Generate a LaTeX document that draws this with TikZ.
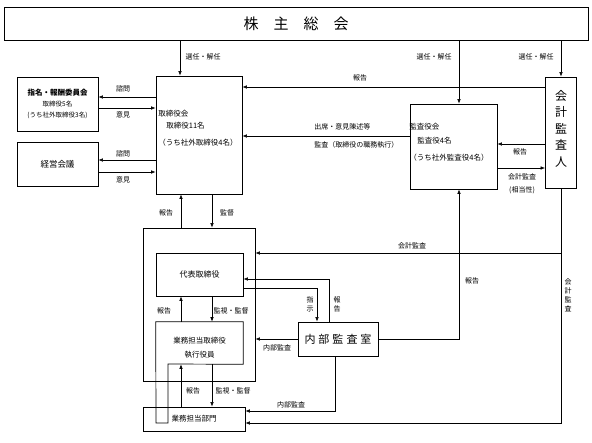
\documentclass[tikz,border=0pt]{standalone}
\usepackage{fontspec}
\setmainfont{Noto Sans CJK JP}
\usetikzlibrary{arrows.meta}

\tikzset{
  box/.style={draw, line width=0.7pt, inner sep=0pt},
  lbl/.style={font=\fontsize{7}{9}\selectfont, inner sep=0pt},
  vlbl/.style={font=\fontsize{7}{9}\selectfont, inner sep=0pt, align=center},
  >={Latex[length=4.5pt,width=3.5pt]},
}

\begin{document}
\begin{tikzpicture}[x=1pt, y=-1pt, line width=0.6pt]
    \useasboundingbox (0,0) rectangle (592,443);

    % boxes
    \node[box, minimum width=584pt, minimum height=33pt, font=\fontsize{15}{15}\selectfont] (kabunushi) at (296,23.5) {株\hspace{15pt}主\hspace{15pt}総\hspace{15pt}会};
    \node[box, minimum width=81pt, minimum height=54pt, align=center] (shimei) at (57.5,104)
        {{\fontsize{7.5}{10}\selectfont\bfseries 指名・報酬委員会}\\[-1pt]{\fontsize{6.5}{9}\selectfont 取締役5名}\\[-1pt]{\fontsize{6.5}{9}\selectfont (うち社外取締役3名)}};
    \node[box, minimum width=81pt, minimum height=44pt, font=\fontsize{8.5}{10}\selectfont] (keiei) at (57.5,164) {経営会議};
    \node[box, minimum width=86pt, minimum height=118pt] (torishimari) at (199,135) {};
    \node[align=left, inner sep=0pt, font=\fontsize{7.5}{12}\selectfont] (torishimaritxt) at (198,128.5)
        {取締役会\\\hspace*{8pt}取締役11名\\[5pt]（うち社外取締役4名）};
    \node[box, minimum width=87pt, minimum height=85pt] (kansayaku) at (453.5,146.5) {};
    \node[align=left, inner sep=0pt, font=\fontsize{7.5}{14}\selectfont] (kansayakutxt) at (449,142.5)
        {監査役会\\\hspace*{8pt}監査役4名\\[3pt]（うち社外監査役4名）};
    \node[box, minimum width=31pt, minimum height=111pt, align=center, font=\fontsize{12}{16.5}\selectfont] (kaikei) at (561,132.5)
        {会\\計\\監\\査\\人\rule[-9pt]{0pt}{9pt}};

    \node[box, minimum width=112pt, minimum height=153pt] (outer) at (199,304.5) {};
    \node[box, minimum width=87pt, minimum height=43pt, font=\fontsize{8}{10}\selectfont] (daihyo) at (199.5,274.5) {代表取締役};
    \node[minimum width=87pt, minimum height=42pt, inner sep=0pt, align=center, font=\fontsize{7.5}{14}\selectfont] (gyomu) at (199.5,343)
        {\rule{0pt}{15pt}業務担当取締役\\執行役員};
    \draw[line width=0.7pt] (gyomu.north west) -- (gyomu.north east) -- (gyomu.south east)
        -- (168,364) -- (168,423) -- (156,423) -- cycle;
    \node[box, minimum width=80pt, minimum height=34pt, font=\fontsize{11}{12}\selectfont] (naibu) at (338,339) {内\hspace{3pt}部\hspace{3pt}監\hspace{3pt}査\hspace{3pt}室};
    \node[box, minimum width=102pt, minimum height=24pt, font=\fontsize{7.5}{10}\selectfont] (bumon) at (194,419) {業務担当部門};

    % 株主総会から
    \draw[->] (kabunushi.south -| 180,0) -- (torishimari.north -| 180,0);
    \node[lbl] at (203,57) {選任・解任};
    \draw[->] (kabunushi.south -| 459,0) -- (kansayaku.north -| 459,0);
    \node[lbl] at (434,57) {選任・解任};
    \draw[->] (kabunushi.south -| 561,0) -- (kaikei.north -| 561,0);
    \node[lbl] at (536,57) {選任・解任};

    % 委員会・会議
    \draw[->] (torishimari.west |- 0,97) -- (shimei.east |- 0,97);
    \node[lbl] at (123,89) {諮問};
    \draw[->] (shimei.east |- 0,108) -- (torishimari.west |- 0,108);
    \node[lbl] at (123,115) {意見};
    \draw[->] (torishimari.west |- 0,160) -- (keiei.east |- 0,160);
    \node[lbl] at (123,154) {諮問};
    \draw[->] (keiei.east |- 0,172) -- (torishimari.west |- 0,172);
    \node[lbl] at (123,180) {意見};

    % 取締役会へ
    \draw[->] (kaikei.west |- 0,87) -- (torishimari.east |- 0,87);
    \node[lbl] at (360,78) {報告};
    \draw[->] (kansayaku.west |- 0,136) -- (torishimari.east |- 0,136);
    \node[lbl, anchor=west] at (314,127) {出席・意見陳述等};
    \node[lbl, anchor=west] at (314,145) {監査（取締役の職務執行）};

    % 会計監査人と監査役会
    \draw[->] (kaikei.west |- 0,144) -- (kansayaku.east |- 0,144);
    \node[lbl] at (520,152) {報告};
    \draw[->] (kansayaku.east |- 0,168) -- (kaikei.west |- 0,168);
    \node[lbl] at (522,177) {会計監査};
    \node[lbl] at (522,190) {(相当性)};

    % 取締役会と執行側
    \draw[->] (outer.north -| 181,0) -- (torishimari.south -| 181,0);
    \node[lbl] at (166,213) {報告};
    \draw[->] (torishimari.south -| 212,0) -- (outer.north -| 212,0);
    \node[lbl] at (227,213) {監督};

    % 会計監査
    \draw[->] (kaikei.south) |- (bumon.east |- 0,423);
    \draw[->] (kaikei.south |- 0,253) -- (outer.east |- 0,253);
    \node[lbl] at (412,246) {会計監査};
    \node[vlbl] at (568,295) {会\\計\\監\\査};

    % 代表取締役・業務担当
    \draw[->] (gyomu.north -| 181,0) -- (daihyo.south -| 181,0);
    \node[lbl] at (164,311) {報告};
    \draw[->] (daihyo.south -| 212,0) -- (gyomu.north -| 212,0);
    \node[lbl] at (231,311) {監視・監督};
    \draw[->] (bumon.north -| 181,0) -- (gyomu.south -| 181,0);
    \node[lbl] at (193,391) {報告};
    \draw[->] (gyomu.south -| 212,0) -- (bumon.north -| 212,0);
    \node[lbl] at (233,391) {監視・監督};

    % 内部監査室
    \draw[->] (daihyo.east |- 0,288) -| (naibu.north -| 317,0);
    \node[vlbl] at (310,304) {指\\示};
    \draw[->] (naibu.north -| 329,0) |- (daihyo.east |- 0,279);
    \node[vlbl] at (337,304) {報\\告};
    \draw[->] (naibu.west) -- (naibu.west -| outer.east);
    \node[lbl] at (277,348) {内部監査};
    \draw[->] (naibu.east) -| (kansayaku.south -| 459,0);
    \node[lbl] at (472,281) {報告};
    \draw[->] (naibu.south -| 335,0) |- (bumon.east |- 0,411);
    \node[lbl] at (291,405) {内部監査};

\end{tikzpicture}
\end{document}
